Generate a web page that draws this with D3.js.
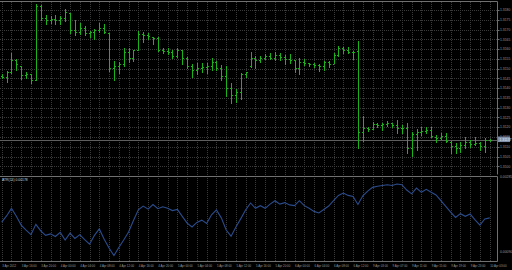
<!DOCTYPE html>
<meta charset="utf-8">
<script src="https://d3js.org/d3.v7.min.js"></script>
<style>
    body { margin: 0; background: #000; }
    text { font-family: "Liberation Sans", Arial, sans-serif; }
</style>
<div id="vis"></div>
<script>
    // OHLC bars
    var opens = [1.31462,1.31457,1.31483,1.31544,1.31513,1.31467,1.31472,1.31442,1.31820,1.31759,
        1.31749,1.31754,1.31749,1.31759,1.31785,1.31698,1.31687,1.31708,1.31682,1.31687,
        1.31698,1.31708,1.31682,1.31503,1.31513,1.31524,1.31585,1.31554,1.31595,1.31677,
        1.31672,1.31663,1.31657,1.31595,1.31590,1.31585,1.31565,1.31595,1.31554,1.31513,
        1.31493,1.31503,1.31508,1.31513,1.31534,1.31503,1.31462,1.31401,1.31365,1.31380,
        1.31472,1.31513,1.31554,1.31544,1.31554,1.31565,1.31554,1.31570,1.31560,1.31549,
        1.31544,1.31503,1.31534,1.31529,1.31524,1.31518,1.31513,1.31534,1.31524,1.31570,
        1.31606,1.31595,1.31585,1.31590,1.31176,1.31196,1.31191,1.31217,1.31211,1.31217,
        1.31222,1.31211,1.31196,1.31196,1.31094,1.31165,1.31176,1.31181,1.31186,1.31150,
        1.31145,1.31155,1.31124,1.31104,1.31094,1.31109,1.31124,1.31114,1.31119,1.31104,
        1.31135];
    var highs = [1.31470,1.31489,1.31580,1.31549,1.31513,1.31483,1.31472,1.31829,1.31826,1.31774,
        1.31769,1.31774,1.31769,1.31804,1.31786,1.31749,1.31733,1.31718,1.31694,1.31701,
        1.31732,1.31728,1.31684,1.31540,1.31534,1.31604,1.31604,1.31595,1.31694,1.31687,
        1.31681,1.31663,1.31663,1.31604,1.31604,1.31595,1.31604,1.31595,1.31558,1.31524,
        1.31527,1.31530,1.31530,1.31553,1.31539,1.31517,1.31513,1.31428,1.31396,1.31479,
        1.31484,1.31587,1.31565,1.31565,1.31575,1.31578,1.31587,1.31581,1.31570,1.31575,
        1.31544,1.31553,1.31548,1.31530,1.31527,1.31524,1.31540,1.31540,1.31581,1.31616,
        1.31612,1.31612,1.31592,1.31643,1.31258,1.31200,1.31227,1.31223,1.31223,1.31233,
        1.31223,1.31237,1.31211,1.31220,1.31177,1.31189,1.31200,1.31200,1.31203,1.31160,
        1.31172,1.31169,1.31131,1.31121,1.31126,1.31152,1.31135,1.31152,1.31126,1.31143,
        1.31141];
    var lows = [1.31452,1.31433,1.31478,1.31493,1.31447,1.31452,1.31426,1.31442,1.31749,1.31728,
        1.31733,1.31728,1.31728,1.31745,1.31681,1.31672,1.31677,1.31672,1.31663,1.31650,
        1.31689,1.31681,1.31489,1.31442,1.31479,1.31513,1.31535,1.31540,1.31595,1.31638,
        1.31650,1.31626,1.31592,1.31578,1.31575,1.31553,1.31558,1.31524,1.31502,1.31456,
        1.31472,1.31484,1.31479,1.31493,1.31493,1.31442,1.31360,1.31326,1.31331,1.31345,
        1.31456,1.31510,1.31502,1.31535,1.31548,1.31548,1.31544,1.31544,1.31524,1.31530,
        1.31484,1.31472,1.31518,1.31513,1.31510,1.31489,1.31493,1.31510,1.31530,1.31565,
        1.31581,1.31578,1.31548,1.31092,1.31131,1.31182,1.31189,1.31203,1.31186,1.31206,
        1.31200,1.31169,1.31172,1.31067,1.31053,1.31084,1.31160,1.31172,1.31152,1.31126,
        1.31138,1.31126,1.31070,1.31067,1.31075,1.31092,1.31097,1.31109,1.31084,1.31075,
        1.31131];
    var closes = [1.31457,1.31483,1.31544,1.31524,1.31467,1.31472,1.31442,1.31820,1.31759,1.31749,
        1.31754,1.31749,1.31759,1.31790,1.31698,1.31687,1.31708,1.31682,1.31687,1.31698,
        1.31708,1.31687,1.31503,1.31513,1.31524,1.31585,1.31554,1.31595,1.31677,1.31672,
        1.31667,1.31657,1.31595,1.31590,1.31585,1.31565,1.31595,1.31554,1.31513,1.31493,
        1.31503,1.31508,1.31513,1.31534,1.31503,1.31462,1.31401,1.31365,1.31380,1.31472,
        1.31483,1.31554,1.31544,1.31554,1.31565,1.31554,1.31570,1.31560,1.31549,1.31544,
        1.31503,1.31534,1.31529,1.31524,1.31518,1.31513,1.31534,1.31524,1.31570,1.31606,
        1.31595,1.31585,1.31585,1.31176,1.31196,1.31191,1.31217,1.31211,1.31217,1.31222,
        1.31211,1.31196,1.31196,1.31094,1.31165,1.31176,1.31181,1.31186,1.31153,1.31145,
        1.31155,1.31127,1.31104,1.31094,1.31109,1.31124,1.31114,1.31119,1.31104,1.31135,
        1.31137];

    // indicator values (one per bar)
    var atr = [0.00167,0.00183,0.00203,0.00182,0.00159,0.00146,0.00134,0.00161,0.00144,0.00132,
        0.00136,0.00129,0.00140,0.00120,0.00138,0.00124,0.00134,0.00121,0.00109,0.00132,
        0.00149,0.00122,0.00099,0.00079,0.00100,0.00120,0.00141,0.00171,0.00199,0.00209,
        0.00201,0.00213,0.00202,0.00207,0.00203,0.00197,0.00200,0.00182,0.00164,0.00154,
        0.00166,0.00172,0.00163,0.00186,0.00199,0.00178,0.00146,0.00130,0.00154,0.00176,
        0.00199,0.00217,0.00203,0.00210,0.00203,0.00214,0.00223,0.00214,0.00218,0.00212,
        0.00210,0.00223,0.00210,0.00203,0.00195,0.00191,0.00200,0.00209,0.00223,0.00237,
        0.00243,0.00237,0.00234,0.00213,0.00236,0.00248,0.00258,0.00261,0.00263,0.00265,
        0.00263,0.00267,0.00265,0.00251,0.00241,0.00256,0.00245,0.00253,0.00245,0.00238,
        0.00223,0.00208,0.00193,0.00179,0.00189,0.00182,0.00188,0.00173,0.00159,0.00175,
        0.00178];

    var priceTicks = [1.3180,1.3175,1.3170,1.3165,1.3160,1.3155,1.3150,1.3145,1.3140,
        1.3135,1.3130,1.3125,1.3120,1.3115,1.3110,1.3105,1.3100];
    var atrTicks = [0.00285, 0.00090];
    var timeLabels = ["3 Apr 2012","3 Apr 16:00","3 Apr 20:00","4 Apr 00:00","4 Apr 04:00",
        "4 Apr 08:00","4 Apr 12:00","4 Apr 16:00","4 Apr 20:00","5 Apr 00:00","5 Apr 04:00",
        "5 Apr 08:00","5 Apr 12:00","5 Apr 16:00","5 Apr 20:00","6 Apr 00:00","6 Apr 04:00",
        "6 Apr 08:00","6 Apr 12:00","9 Apr 03:00","9 Apr 07:00","9 Apr 11:00","9 Apr 15:00",
        "9 Apr 19:00","9 Apr 23:00","10 Apr 03:00"];

    var W = 512, H = 270, R = 497.5;
    var gridClr = "#3a3a3a", bordClr = "#707070", txtClr = "#9a9a9a", barClr = "#18b418";

    var svg = d3.select("#vis").append("svg")
        .attr("width", W).attr("height", H)
        .style("display", "block")
        .style("background", "#000");

    var x = d3.scaleLinear().domain([0, 100]).range([1.7, 489.7]);
    var y = d3.scaleLinear().domain([1.310, 1.318]).range([166.3, 10]);
    var yi = d3.scaleLinear().domain([0.0007, 0.0028]).range([259, 179]);
    var px = function (v) { return Math.round(v) + 0.5; };

    // grid (dotted, like the terminal)
    var vgrid = d3.range(0, 101, 2);
    svg.append("g").selectAll("line").data(vgrid).enter().append("line")
        .attr("x1", function (d) { return px(x(d)); })
        .attr("x2", function (d) { return px(x(d)); })
        .attr("y1", 2).attr("y2", 261)
        .attr("stroke", gridClr)
        .attr("stroke-dasharray", "1,1");
    svg.append("g").selectAll("line").data(priceTicks).enter().append("line")
        .attr("x1", 0).attr("x2", R)
        .attr("y1", function (d) { return px(y(d)); })
        .attr("y2", function (d) { return px(y(d)); })
        .attr("stroke", gridClr)
        .attr("stroke-dasharray", "1,1");

    // current price line
    var last = closes[closes.length - 1];
    svg.append("line")
        .attr("x1", 0).attr("x2", R)
        .attr("y1", px(y(last))).attr("y2", px(y(last)))
        .attr("stroke", "#5e5e5e");

    // panel borders
    svg.append("path")
        .attr("d", "M0,1.5H" + R + "V174.5M0,176.5H" + R + "V261.5H0")
        .attr("fill", "none").attr("stroke", bordClr);

    // OHLC bars
    var bars = svg.append("g").attr("stroke", barClr).attr("stroke-width", 1);
    var idx = d3.range(opens.length);
    bars.selectAll(".hl").data(idx).enter().append("line")
        .attr("x1", function (i) { return px(x(i)); })
        .attr("x2", function (i) { return px(x(i)); })
        .attr("y1", function (i) { return Math.round(y(highs[i])); })
        .attr("y2", function (i) { return Math.round(y(lows[i])) + 1; });
    bars.selectAll(".op").data(idx).enter().append("line")
        .attr("x1", function (i) { return Math.round(x(i)) - 1; })
        .attr("x2", function (i) { return Math.round(x(i)); })
        .attr("y1", function (i) { return px(y(opens[i])); })
        .attr("y2", function (i) { return px(y(opens[i])); });
    bars.selectAll(".cl").data(idx).enter().append("line")
        .attr("x1", function (i) { return Math.round(x(i)) + 1; })
        .attr("x2", function (i) { return Math.round(x(i)) + 2; })
        .attr("y1", function (i) { return px(y(closes[i])); })
        .attr("y2", function (i) { return px(y(closes[i])); });

    // indicator line
    var line = d3.line()
        .x(function (d, i) { return x(i); })
        .y(function (d) { return yi(d); });
    svg.append("path").datum(atr)
        .attr("d", line)
        .attr("fill", "none")
        .attr("stroke", "#2b4c8c")
        .attr("stroke-width", 1.1);

    // price labels
    var fs = 3.4;
    svg.append("g").selectAll("text").data(priceTicks).enter().append("text")
        .attr("x", 500).attr("y", function (d) { return y(d) + 1.2; })
        .attr("font-size", fs).attr("fill", txtClr)
        .text(function (d) { return d.toFixed(4); });
    svg.append("g").selectAll("line").data(priceTicks).enter().append("line")
        .attr("x1", R).attr("x2", R + 2)
        .attr("y1", function (d) { return px(y(d)); })
        .attr("y2", function (d) { return px(y(d)); })
        .attr("stroke", bordClr);

    // bid box
    svg.append("rect")
        .attr("x", R + 0.5).attr("y", y(last) - 3)
        .attr("width", 12).attr("height", 5.5)
        .attr("fill", "#7f8ea8");
    svg.append("text")
        .attr("x", 499.5).attr("y", y(last) + 1.2)
        .attr("font-size", fs).attr("fill", "#f0f0f0")
        .text(last.toFixed(5));

    // indicator labels
    svg.append("g").selectAll("text").data(atrTicks).enter().append("text")
        .attr("x", 500).attr("y", function (d) { return yi(d) + 1.2; })
        .attr("font-size", fs).attr("fill", txtClr)
        .text(function (d) { return d.toFixed(5); });
    svg.append("text")
        .attr("x", 2).attr("y", 180.5)
        .attr("font-size", fs).attr("fill", "#cfcfcf")
        .text("ATR(14) " + atr[atr.length - 1].toFixed(5));

    // time labels
    svg.append("g").selectAll("text").data(timeLabels).enter().append("text")
        .attr("x", function (d, k) { return x(k * 4) + 0.5; })
        .attr("y", 267)
        .attr("font-size", 2.9).attr("fill", txtClr)
        .text(function (d) { return d; });
</script>
